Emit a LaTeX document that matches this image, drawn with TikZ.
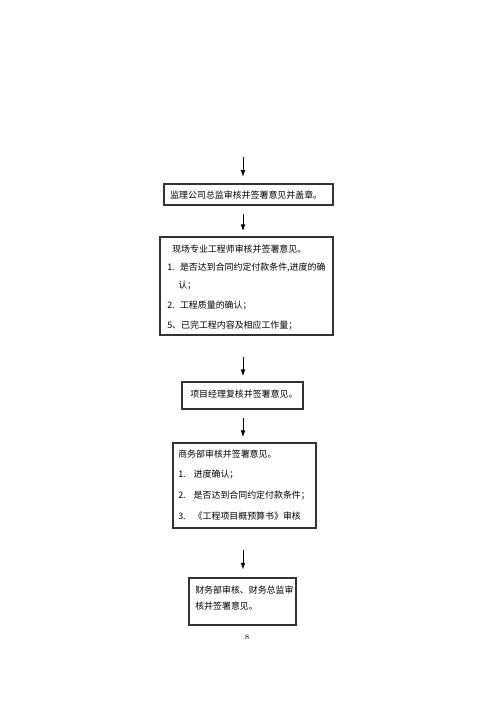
\documentclass[tikz,border=0pt]{standalone}
\usepackage{fontspec}
\newfontfamily\cjk{Noto Sans CJK SC}
\usetikzlibrary{arrows.meta,fit}
\tikzset{
  box/.style={draw=black!80,line width=0.8pt,inner sep=0pt},
  txt/.style={anchor=west,inner sep=0pt,font=\cjk\fontsize{6.7}{8}\selectfont},
  arr/.style={-{Latex[length=5pt,width=3.5pt]},line width=0.6pt}
}
\begin{document}
\begin{tikzpicture}[x=0.75pt,y=0.75pt,yscale=-1,xscale=1]
\useasboundingbox (0,0) rectangle (500,707);

% boxes
\node[box,fit={(164,184) (333,205)}] (zongjian) {};
\node[box,fit={(160,237) (333,335)}] (xianchang) {};
\node[box,fit={(182,382) (303,409)}] (jingli) {};
\node[box,fit={(173,443) (316,528)}] (shangwu) {};
\node[box,fit={(189,578) (296,625)}] (caiwu) {};

% arrows
\coordinate (start) at (243,157);
\draw[arr] (start) -- ([yshift=-5]zongjian.north -| start);
\draw[arr,shorten <=6pt,shorten >=4pt] (zongjian.south -| start) -- (xianchang.north -| start);
\draw[arr,shorten <=16pt,shorten >=4pt] (xianchang.south -| start) -- (jingli.north -| start);
\draw[arr,shorten <=6.5pt,shorten >=4pt] (jingli.south -| start) -- (shangwu.north -| start);
\draw[arr,shorten <=16pt,shorten >=6pt] (shangwu.south -| start) -- (caiwu.north -| start);

% Text Node
\node[txt] (t1) at (170,195) {监理公司总监审核并签署意见并盖章。};
\node[txt] (t2) at (172,249) {现场专业工程师审核并签署意见。};
\node[txt] (t3) at (167,268) {1.\hspace{4pt}是否达到合同约定付款条件,进度的确};
\node[txt] (t4) at (178,285) {认；};
\node[txt] (t5) at (167,305) {2.\hspace{4pt}工程质量的确认；};
\node[txt] (t6) at (167,325) {5、已完工程内容及相应工作量；};
\node[txt] (t7) at (190,394) {项目经理复核并签署意见。};
\node[txt] (t8) at (178,454) {商务部审核并签署意见。};
\node[txt] (t9) at (178,474) {1.\hspace{6pt}进度确认；};
\node[txt] (t10) at (178,495) {2.\hspace{6pt}是否达到合同约定付款条件；};
\node[txt] (t11) at (178,516) {3.\hspace{6pt}《工程项目概预算书》审核};
\node[txt] (t12) at (195,590) {财务部审核、财务总监审};
\node[txt] (t13) at (195,606) {核并签署意见。};
\node[inner sep=0pt,font=\fontsize{5.5}{6}\selectfont] (page) at (247,637) {8};

\end{tikzpicture}
\end{document}
